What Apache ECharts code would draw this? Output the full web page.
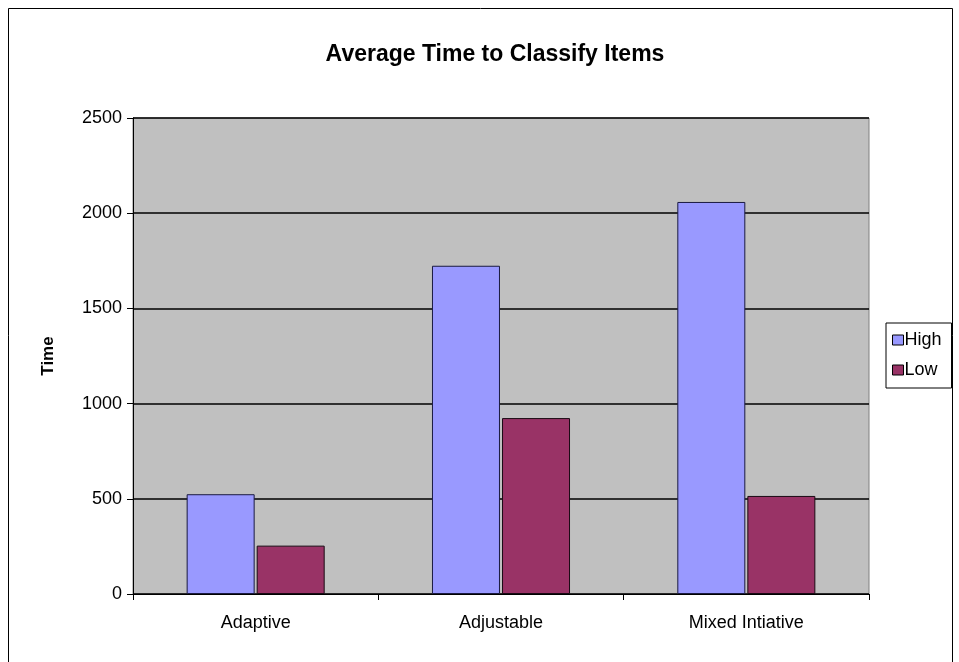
<!DOCTYPE html>
<html>
<head>
<meta charset="utf-8">
<script src="https://cdn.jsdelivr.net/npm/echarts@6/dist/echarts.min.js"></script>
<style>
  html, body { margin: 0; padding: 0; background: #fff; }
  #main { width: 959px; height: 662px; }
</style>
</head>
<body>
<div id="main"></div>
<script>
// categories and values
const categories = ['Adaptive', 'Adjustable', 'Mixed Intiative'];
const highValues = [524, 1724, 2059];
const lowValues = [254, 924, 515];
const yTicks = [0, 500, 1000, 1500, 2000, 2500];

const chart = echarts.init(document.getElementById('main'));

const options = {
  backgroundColor: '#fff',
  animation: false,
  textStyle: { fontFamily: 'Liberation Sans, Arial, sans-serif' },
  title: {
    text: 'Average Time to Classify Items',
    left: 490,
    textAlign: 'center',
    top: 38,
    textStyle: { fontSize: 23, fontWeight: 'bold', color: '#000' }
  },
  graphic: [{
    type: 'rect',
    shape: { x: 8.5, y: 8.5, width: 944, height: 660 },
    style: { fill: 'none', stroke: '#000', lineWidth: 1 },
    silent: true
  }],
  legend: {
    orient: 'vertical',
    left: 886,
    top: 323,
    padding: [8, 10, 9, 6],
    itemGap: 12,
    itemWidth: 11,
    itemHeight: 10,
    icon: 'rect',
    borderColor: '#000',
    borderWidth: 1,
    backgroundColor: '#fff',
    textStyle: { fontSize: 18, color: '#000', padding: [0, 0, 0, -4] },
    data: [
      { name: 'High', itemStyle: { borderColor: '#000', borderWidth: 1 } },
      { name: 'Low', itemStyle: { borderColor: '#000', borderWidth: 1 } }
    ]
  },
  grid: {
    left: 133,
    right: 90,
    top: 118,
    bottom: 68,
    show: true,
    backgroundColor: '#c0c0c0',
    borderColor: '#808080',
    borderWidth: 1
  },
  xAxis: {
    type: 'category',
    data: categories,
    axisLine: { lineStyle: { color: '#000', width: 1 } },
    axisTick: { show: true, inside: false, length: 6, alignWithLabel: false, lineStyle: { color: '#000' } },
    axisLabel: { fontSize: 18, color: '#000', margin: 20 }
  },
  yAxis: {
    type: 'value',
    name: 'Time',
    nameLocation: 'middle',
    nameGap: 76,
    nameRotate: 90,
    nameTextStyle: { fontSize: 17, fontWeight: 'bold', color: '#000' },
    min: yTicks[0],
    max: yTicks[yTicks.length - 1],
    interval: 500,
    axisLine: { show: true, lineStyle: { color: '#000', width: 1 } },
    axisTick: { show: true, inside: false, length: 6, lineStyle: { color: '#000' } },
    axisLabel: { fontSize: 18, color: '#000', margin: 11, formatter: v => String(v) },
    splitLine: { show: true, lineStyle: { color: '#000', width: 1.5 } }
  },
  series: [
    {
      name: 'High',
      type: 'bar',
      data: highValues,
      barWidth: 68,
      barGap: '3%',
      itemStyle: { color: '#9999ff', borderColor: '#1a1a40', borderWidth: 1 }
    },
    {
      name: 'Low',
      type: 'bar',
      data: lowValues,
      barWidth: 68,
      barGap: '3%',
      itemStyle: { color: '#993366', borderColor: '#1a0a14', borderWidth: 1 }
    }
  ]
};

chart.setOption(options, true);
</script>
</body>
</html>
